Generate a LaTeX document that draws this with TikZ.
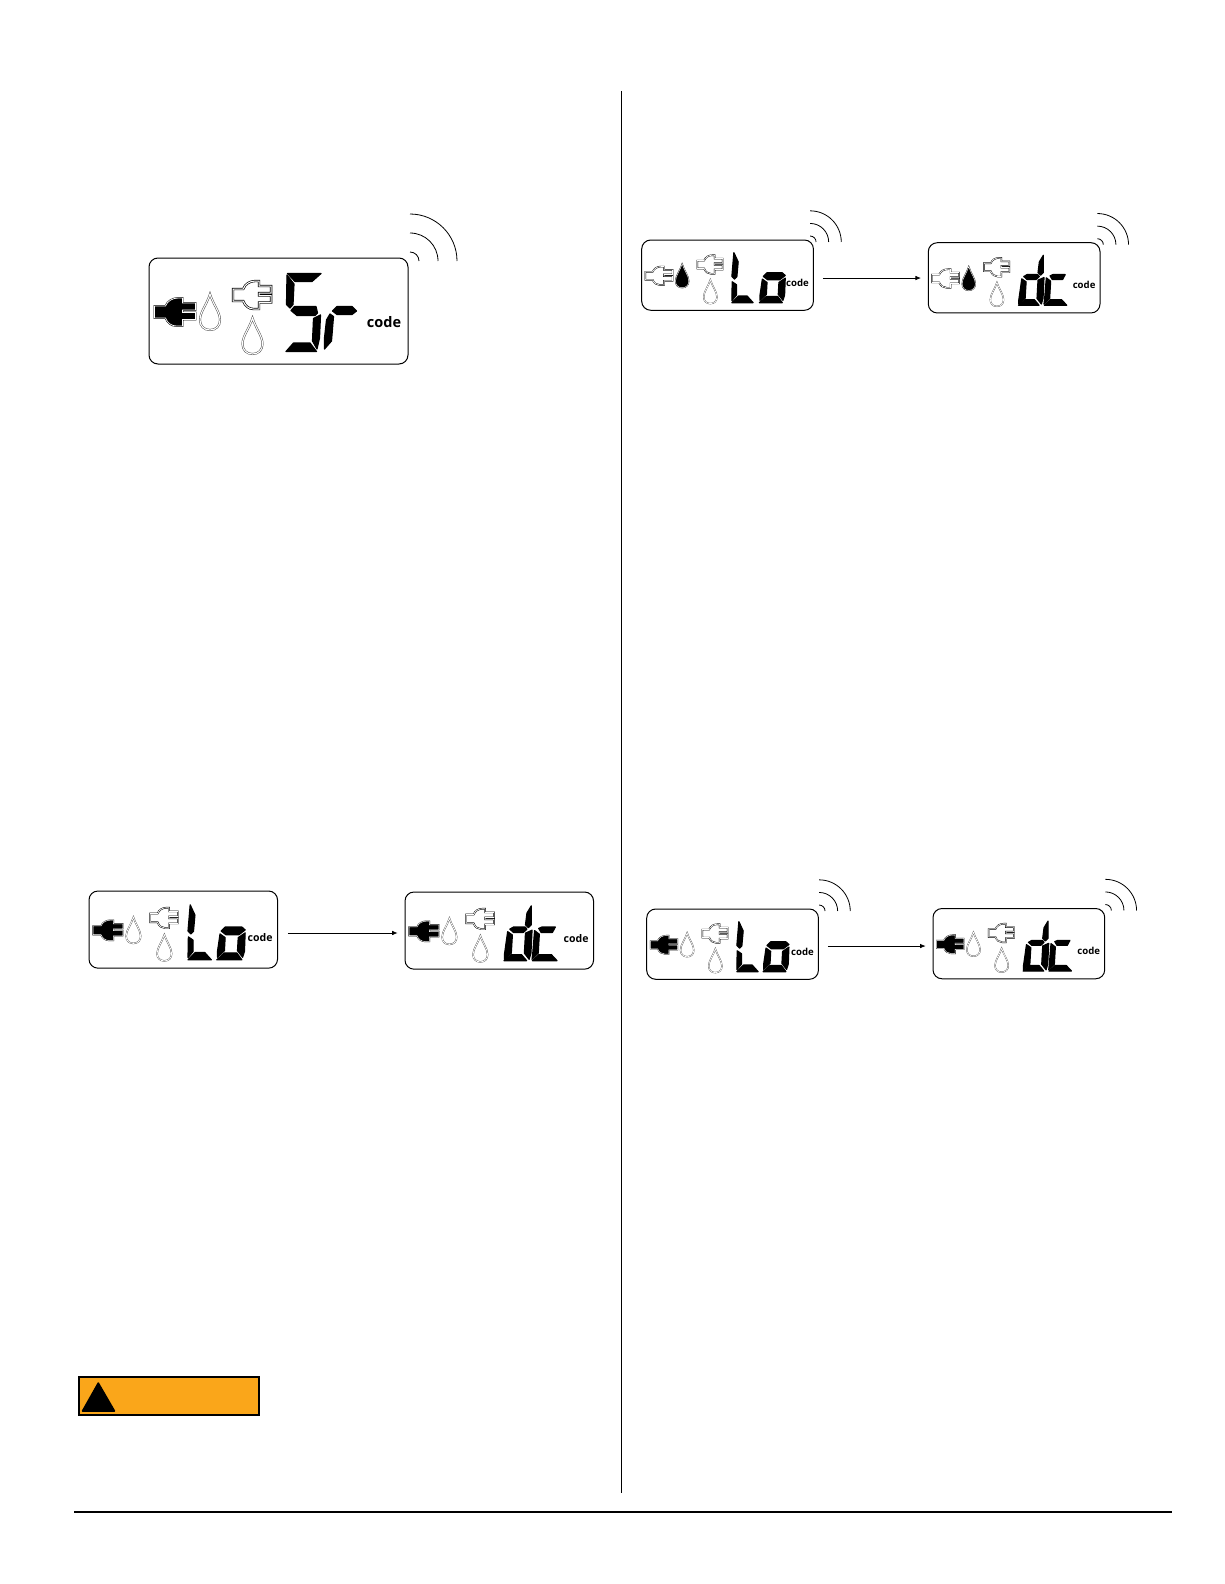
\documentclass[tikz,border=0pt]{standalone}
\usepackage{fontspec}
\setsansfont{Open Sans}
\usepackage{tikz}
\usetikzlibrary{arrows.meta}
\definecolor{WarnOrange}{HTML}{FAA61A}
\tikzset{
  lcdbox/.style={draw,rounded corners=9pt,minimum width=259pt,minimum height=106pt,inner sep=0pt,line width=1pt},
  lcdcode/.style={font=\sffamily\bfseries\fontsize{14.5}{14.5}\selectfont,inner sep=0pt},
  lcdseg/.style={fill=black,draw=black,line join=round,line width=1.2pt},
  lcdoff/.style={draw=black!75,double=white,line width=\lcdscale*.45pt,double distance=\lcdscale*1.1pt},
  lcdplugoff/.style={draw=black,double=white,line width=\lcdscale*.65pt,double distance=\lcdscale*1pt},
  lcdon/.style={fill=black,draw=black,double=white,line width=\lcdscale*.5pt,double distance=\lcdscale*.7pt},
  lcdwave/.style={line width=.8pt},
  lcdarrow/.style={-{Latex[length=5.5pt,width=4.5pt]},line width=.7pt,shorten <=9pt,shorten >=7pt},
  warnbox/.style={draw,fill=WarnOrange,line width=2pt,minimum width=180pt,minimum height=38pt,inner sep=0pt}
}
% icons, (#1,#2) is the top left corner or the tip of the drop
\newcommand{\lcdplug}[3]{
  \draw[shift={(#1,#2)},#3] (0,8)--(11,8) .. controls (13,3) and (18,0) .. (24,0)--(28,0)--(28,5)--(41,5)--(41,12)
    --(28,12)--(28,14.5)--(41,14.5)--(41,21.5)--(28,21.5)--(28,28)--(22,28) .. controls (17,28) and (13,25) .. (11,20)--(0,20)--cycle;
}
\newcommand{\lcddrop}[3]{
  \draw[shift={(#1,#2)},#3] (0,0) .. controls (-3,10) and (-10,18) .. (-10,26) .. controls (-10,32) and (-6,36) .. (0,36)
    .. controls (6,36) and (10,32) .. (10,26) .. controls (10,18) and (3,10) .. (0,0)--cycle;
}
\newcommand{\lcdwaves}[1]{
  \foreach \r in {9,28,47}
    \draw[lcdwave] (#1,3-\r) arc[start angle=-90,end angle=0,radius=\r];
}
% digits
\newcommand{\lcdSr}{
  \draw[lcdseg] (138.5,15.5)--(172,15.5)--(163,23.5)--(146,23.5)--cycle;
  \draw[lcdseg] (138,17)--(145,26)--(144,46.5)--(141,50)--(137.5,46.5)--cycle;
  \draw[lcdseg] (142,52.5)--(145.5,48.5)--(167,48.5)--(168.5,55)--(166,57.5)--(148,57.5)--cycle;
  \draw[lcdseg] (171.5,57)--(170.5,80)--(168,91)--(163.5,83)--(164.5,60.5)--cycle;
  \draw[lcdseg] (137,93.5)--(144.5,85)--(161,85)--(167.5,93.5)--cycle;
  \draw[lcdseg] (181,56)--(184.5,58.5)--(182.5,83)--(175.5,91)--(175.5,80)--(177.5,62)--cycle;
  \draw[lcdseg] (183.5,53)--(188,48.5)--(203,48.5)--(207.5,53)--(203,56.5)--(188,56.5)--cycle;
}
% #1 moves the o
\newcommand{\lcdLo}[1]{
  \draw[lcdseg] (139,19)--(145.5,33)--(143.5,55.5)--(140,59)--(136,55)--cycle;
  \draw[lcdseg] (136.5,63)--(143,67.5)--(143,83)--(136,91.5)--cycle;
  \draw[lcdseg] (136,94.5)--(146,84.5)--(159,84.5)--(168,94.5)--cycle;
  \begin{scope}[shift={(#1,0)}]
    \draw[lcdseg] (181.5,55)--(187,49.5)--(210,49.5)--(214.5,53.5)--(206,60)--(188,60)--cycle;
    \draw[lcdseg] (180,59)--(187,64)--(186,82)--(176.5,91)--(176.5,83)--cycle;
    \draw[lcdseg] (214.5,57.5)--(213.5,83)--(211,91)--(204,82)--(205,64)--cycle;
    \draw[lcdseg] (175.5,94.5)--(186,85)--(203,85)--(210,94.5)--cycle;
  \end{scope}
}
\newcommand{\lcddc}{
  \draw[lcdseg] (173.5,19)--(173.5,45)--(169.5,49)--(165.5,45)--(167.5,29)--cycle;
  \draw[lcdseg] (174.5,52.5)--(173,84)--(170.5,92.4)--(164,84)--(165.5,56.5)--cycle;
  \draw[lcdseg] (144,51)--(149,48.1)--(165,48.1)--(167.5,51)--(162.6,55.5)--(149,55.5)--cycle;
  \draw[lcdseg] (141,54.5)--(147.5,59)--(146,84)--(136.5,92.4)--(136.5,86.5)--cycle;
  \draw[lcdseg] (136,94.3)--(146,86)--(160,86)--(167,94.3)--cycle;
  \draw[lcdseg] (183.7,50)--(188,48.1)--(206.5,48.1)--(202.5,55.5)--(187,55.5)--cycle;
  \draw[lcdseg] (178,53)--(184.5,58)--(183,84)--(174.5,92.4)--(175.5,84)--cycle;
  \draw[lcdseg] (175,94.3)--(184,86)--(201,86)--(208.8,94.3)--cycle;
}
% name, left, top, scale, icons and digits
\newcommand{\lcdpanel}[5]{
  \begin{scope}[shift={(#2,#3)},scale=#4,transform shape]
    \def\lcdscale{#4}
    \node[lcdbox] (#1) at (129.5,53) {};
    \node[lcdcode] (#1code) at (235,64) {code};
    \lcdplug{84}{23}{lcdplugoff,xscale=.93}
    \lcddrop{103.5}{60}{lcdoff}
    #5
  \end{scope}
}
\begin{document}
\begin{tikzpicture}[x=1pt,y=-1pt,>=Latex]
  \useasboundingbox (0,0) rectangle (1224,1584);
  % page rules
  \draw[line width=.9pt] (621,91)--(621,1493);
  \draw[line width=1.6pt] (74,1512)--(1172,1512);

  \lcdpanel{srpanel}{149}{258}{1}{\lcdplug{5.5}{40}{lcdon}\lcddrop{61}{36}{lcdoff}\lcdSr\lcdwaves{261}}

  \lcdpanel{lotop}{641.7}{240}{.663}{\lcdplug{5.5}{40}{lcdplugoff}\lcddrop{61}{36}{lcdon}\lcdLo{2}\lcdwaves{254}}
  \lcdpanel{dctop}{928.3}{242.7}{.663}{\lcdplug{5.5}{40}{lcdplugoff}\lcddrop{61}{36}{lcdon}\lcddc\lcdwaves{255}}
  \draw[lcdarrow] ([yshift=-2.9pt]lotop.east) -- ([yshift=-.2pt]dctop.west);

  \lcdpanel{loleft}{89}{891}{.728}{\lcdplug{5.5}{40}{lcdon}\lcddrop{61}{36}{lcdoff}\lcdLo{0}}
  \lcdpanel{dcleft}{405}{892}{.728}{\lcdplug{5.5}{40}{lcdon}\lcddrop{61}{36}{lcdoff}\lcddc}
  \draw[lcdarrow,shorten <=10pt] ([yshift=-3.4pt]loleft.east) -- ([yshift=-2.4pt]dcleft.west);

  \lcdpanel{lobot}{646.7}{909}{.663}{\lcdplug{5.5}{40}{lcdon}\lcddrop{61}{36}{lcdoff}\lcdLo{0}\lcdwaves{260}}
  \lcdpanel{dcbot}{933}{908.5}{.663}{\lcdplug{5.5}{40}{lcdon}\lcddrop{61}{36}{lcdoff}\lcddc\lcdwaves{260}}
  \draw[lcdarrow] ([yshift=-1.9pt]lobot.east) -- ([yshift=-2.4pt]dcbot.west);

  % warning tag
  \node[warnbox] (warn) at (169,1396) {};
  \fill[line join=round,draw,line width=1.5pt] (98.3,1383)--(114.5,1411)--(82.5,1411)--cycle;
\end{tikzpicture}
\end{document}
